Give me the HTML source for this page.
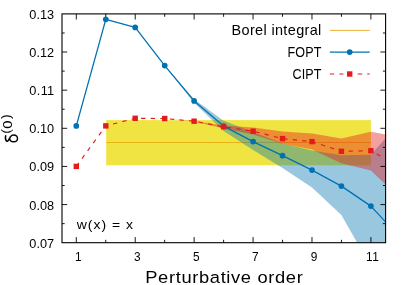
<!DOCTYPE html>
<html><head><meta charset="utf-8"><title>plot</title>
<style>
html,body{margin:0;padding:0;background:#fff;}
body{width:407px;height:285px;overflow:hidden;}
svg{display:block;will-change:transform;}
text{font-family:"Liberation Sans",sans-serif;fill:#000;}
</style></head><body>
<svg width="407" height="285" viewBox="0 0 407 285">
<defs><clipPath id="c"><rect x="62.0" y="13.9" width="323.6" height="228.8"/></clipPath></defs>
<rect width="407" height="285" fill="#fff"/>
<g clip-path="url(#c)">
<rect x="106.2" y="120.1" width="264.7" height="45.2" fill="#f0e442"/>
<line x1="106.2" x2="370.9" y1="142.5" y2="142.5" stroke="#e69f00" stroke-width="1" stroke-opacity="0.7"/>
<polygon points="164.7,65.2 194.1,99.3 223.6,120.8 253.1,132.0 282.5,143.5 312.0,150.5 341.4,155.3 370.9,154.8 385.6,138.3 385.6,300.0 370.9,267.0 341.4,214.9 312.0,187.6 282.5,168.0 253.1,150.0 223.6,131.0 194.1,102.7 164.7,66.0" fill="#0072b2" fill-opacity="0.4"/>
<polygon points="164.7,118.5 194.1,121.0 223.6,125.5 253.1,127.4 282.5,131.4 312.0,133.6 341.4,138.4 370.9,131.8 385.6,134.5 385.6,184.5 370.9,170.4 341.4,163.2 312.0,149.6 282.5,143.8 253.1,134.4 223.6,128.5 194.1,121.5 164.7,118.5" fill="#e41a1c" fill-opacity="0.42"/>
<polyline points="76.3,125.9 105.8,19.3 135.2,27.4 164.7,65.6 194.1,100.9 223.6,126.1 253.1,141.6 282.5,155.7 312.0,170.1 341.4,186.1 370.9,206.1 385.6,221.9" fill="none" stroke="#0072b2" stroke-width="1.3" stroke-linejoin="round"/>
<polyline points="76.3,166.4 105.8,125.9 135.2,118.3 164.7,118.5 194.1,121.2 223.6,126.8 253.1,131.2 282.5,138.6 312.0,141.6 341.4,151.3 370.9,150.7 385.6,159.0" fill="none" stroke="#e41a1c" stroke-width="1.1" stroke-dasharray="4.3 5.3"/>

<circle cx="76.3" cy="125.9" r="2.85" fill="#0072b2"/>
<circle cx="105.8" cy="19.3" r="2.85" fill="#0072b2"/>
<circle cx="135.2" cy="27.4" r="2.85" fill="#0072b2"/>
<circle cx="164.7" cy="65.6" r="2.85" fill="#0072b2"/>
<circle cx="194.1" cy="100.9" r="2.85" fill="#0072b2"/>
<circle cx="223.6" cy="126.1" r="2.85" fill="#0072b2"/>
<circle cx="253.1" cy="141.6" r="2.85" fill="#0072b2"/>
<circle cx="282.5" cy="155.7" r="2.85" fill="#0072b2"/>
<circle cx="312.0" cy="170.1" r="2.85" fill="#0072b2"/>
<circle cx="341.4" cy="186.1" r="2.85" fill="#0072b2"/>
<circle cx="370.9" cy="206.1" r="2.85" fill="#0072b2"/>
<rect x="73.6" y="163.7" width="5.4" height="5.4" fill="#e41a1c"/>
<rect x="103.1" y="123.2" width="5.4" height="5.4" fill="#e41a1c"/>
<rect x="132.5" y="115.6" width="5.4" height="5.4" fill="#e41a1c"/>
<rect x="162.0" y="115.8" width="5.4" height="5.4" fill="#e41a1c"/>
<rect x="191.4" y="118.5" width="5.4" height="5.4" fill="#e41a1c"/>
<rect x="220.9" y="124.1" width="5.4" height="5.4" fill="#e41a1c"/>
<rect x="250.4" y="128.5" width="5.4" height="5.4" fill="#e41a1c"/>
<rect x="279.8" y="135.9" width="5.4" height="5.4" fill="#e41a1c"/>
<rect x="309.3" y="138.9" width="5.4" height="5.4" fill="#e41a1c"/>
<rect x="338.7" y="148.6" width="5.4" height="5.4" fill="#e41a1c"/>
<rect x="368.2" y="148.0" width="5.4" height="5.4" fill="#e41a1c"/>
</g>
<path d="M62.0 32.97h2.7M385.6 32.97h-2.7M62.0 52.03h5.2M385.6 52.03h-5.2M62.0 71.10h2.7M385.6 71.10h-2.7M62.0 90.17h5.2M385.6 90.17h-5.2M62.0 109.23h2.7M385.6 109.23h-2.7M62.0 128.30h5.2M385.6 128.30h-5.2M62.0 147.37h2.7M385.6 147.37h-2.7M62.0 166.43h5.2M385.6 166.43h-5.2M62.0 185.50h2.7M385.6 185.50h-2.7M62.0 204.57h5.2M385.6 204.57h-5.2M62.0 223.63h2.7M385.6 223.63h-2.7M76.30 242.7v-5.6M76.30 13.9v5.6M105.76 242.7v-2.9M105.76 13.9v2.9M135.22 242.7v-5.6M135.22 13.9v5.6M164.68 242.7v-2.9M164.68 13.9v2.9M194.14 242.7v-5.6M194.14 13.9v5.6M223.60 242.7v-2.9M223.60 13.9v2.9M253.06 242.7v-5.6M253.06 13.9v5.6M282.52 242.7v-2.9M282.52 13.9v2.9M311.98 242.7v-5.6M311.98 13.9v5.6M341.44 242.7v-2.9M341.44 13.9v2.9M370.90 242.7v-5.6M370.90 13.9v5.6" stroke="#000" stroke-width="0.9" fill="none"/>
<rect x="62.0" y="13.9" width="323.6" height="228.8" fill="none" stroke="#000" stroke-width="1.1"/>
<text transform="translate(54.2,18.9) scale(1.02,1)" font-size="12.5" text-anchor="end" textLength="24.41" lengthAdjust="spacing" >0.13</text>
<text transform="translate(54.2,57.0) scale(1.02,1)" font-size="12.5" text-anchor="end" textLength="24.41" lengthAdjust="spacing" >0.12</text>
<text transform="translate(54.2,95.2) scale(1.02,1)" font-size="12.5" text-anchor="end" textLength="24.41" lengthAdjust="spacing" >0.11</text>
<text transform="translate(54.2,133.3) scale(1.02,1)" font-size="12.5" text-anchor="end" textLength="24.41" lengthAdjust="spacing" >0.10</text>
<text transform="translate(54.2,171.4) scale(1.02,1)" font-size="12.5" text-anchor="end" textLength="24.41" lengthAdjust="spacing" >0.09</text>
<text transform="translate(54.2,209.6) scale(1.02,1)" font-size="12.5" text-anchor="end" textLength="24.41" lengthAdjust="spacing" >0.08</text>
<text transform="translate(54.2,247.7) scale(1.02,1)" font-size="12.5" text-anchor="end" textLength="24.41" lengthAdjust="spacing" >0.07</text>
<text transform="translate(78.4,260.6) scale(0.9,1)" font-size="13.2" text-anchor="middle" textLength="7.33" lengthAdjust="spacing" >1</text>
<text transform="translate(137.3,260.6) scale(0.9,1)" font-size="13.2" text-anchor="middle" textLength="7.33" lengthAdjust="spacing" >3</text>
<text transform="translate(196.2,260.6) scale(0.9,1)" font-size="13.2" text-anchor="middle" textLength="7.33" lengthAdjust="spacing" >5</text>
<text transform="translate(255.2,260.6) scale(0.9,1)" font-size="13.2" text-anchor="middle" textLength="7.33" lengthAdjust="spacing" >7</text>
<text transform="translate(314.1,260.6) scale(0.9,1)" font-size="13.2" text-anchor="middle" textLength="7.33" lengthAdjust="spacing" >9</text>
<text transform="translate(372.4,260.6) scale(0.9,1)" font-size="13.2" text-anchor="middle" textLength="14.44" lengthAdjust="spacing" >11</text>
<text transform="translate(224.0,282.7) scale(1.06,1)" font-size="17.3" text-anchor="middle" textLength="148.58" lengthAdjust="spacing" >Perturbative order</text>
<g transform="translate(18.3,143) rotate(-90)"><path d="M7.7,-12.5 C5.6,-13.1 3.2,-13.0 2.1,-11.9 C1.3,-11.0 2.0,-10.2 3.4,-9.5 L6.2,-7.9 C7.4,-7.1 8.0,-6.0 8.0,-4.6 C8.0,-2.2 6.6,-0.8 4.6,-0.8 C2.6,-0.8 1.2,-2.2 1.2,-4.6 C1.2,-7.0 2.6,-8.5 4.6,-8.5 C5.2,-8.5 5.8,-8.3 6.2,-7.9" fill="none" stroke="#000" stroke-width="1.45" stroke-linecap="butt" stroke-linejoin="round"/><text transform="translate(9.2,-8.3) scale(1.1,1)" font-size="12.8">(</text><text transform="translate(14.3,-6.4) scale(1.24,1)" font-size="12">0</text><text transform="translate(24.0,-8.3) scale(1.1,1)" font-size="12.8">)</text></g>
<text transform="translate(76.7,228.7) scale(1.06,1)" font-size="13.2" text-anchor="start" textLength="53.21" lengthAdjust="spacing" >w(x) = x</text>
<text transform="translate(321.3,35.4) scale(1.02,1)" font-size="14.2" text-anchor="end" textLength="88.04" lengthAdjust="spacing" >Borel integral</text>
<text transform="translate(321.3,57.0) scale(0.885,1)" font-size="14.2" text-anchor="end" textLength="38.19" lengthAdjust="spacing" >FOPT</text>
<text transform="translate(321.3,78.5) scale(0.885,1)" font-size="14.2" text-anchor="end" textLength="32.54" lengthAdjust="spacing" >CIPT</text>
<line x1="329.8" x2="369.7" y1="30.4" y2="30.4" stroke="#e69f00" stroke-width="1" stroke-opacity="0.8"/>
<line x1="329.8" x2="369.7" y1="52.1" y2="52.1" stroke="#0072b2" stroke-width="1.3"/><circle cx="349.7" cy="52.1" r="2.85" fill="#0072b2"/>
<path d="M329.8 74H334.1M339.4 74H343.4M357.6 74H362.2M367.2 74H369.7" stroke="#e41a1c" stroke-width="1.2" fill="none"/><rect x="347" y="71.3" width="5.4" height="5.4" fill="#e41a1c"/>
</svg></body></html>
